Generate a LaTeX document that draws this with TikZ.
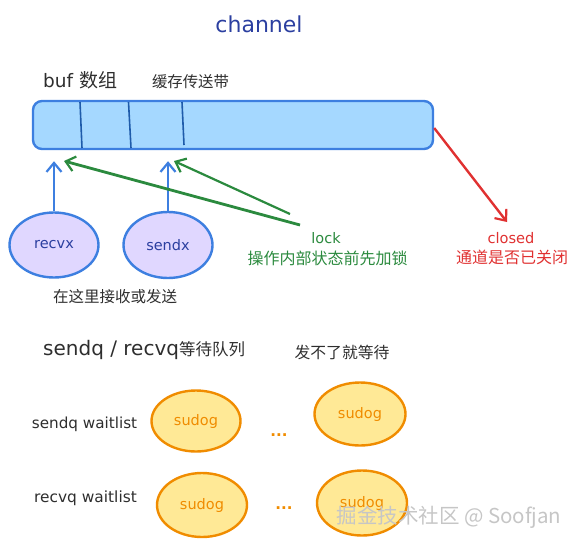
\documentclass[tikz,border=0pt]{standalone}
\usepackage{fontspec}
\setmainfont{DejaVu Sans}
\newfontfamily\cjk{Noto Sans CJK SC}
\usetikzlibrary{shapes.geometric,arrows.meta}
\definecolor{titleblue}{HTML}{2B3FA0}
\definecolor{buffill}{HTML}{A5D8FF}
\definecolor{bufstroke}{HTML}{3D7FE0}
\definecolor{divblue}{HTML}{1E5BAA}
\definecolor{lav}{HTML}{E0D7FF}
\definecolor{grn}{HTML}{2B8A3E}
\definecolor{rd}{HTML}{E03131}
\definecolor{ylw}{HTML}{FFE996}
\definecolor{org}{HTML}{F08C00}
\definecolor{ink}{HTML}{2E2E2E}
\newcommand{\fsz}[1]{\fontsize{#1}{#1}\selectfont}
\tikzset{
  lbl/.style={inner sep=0pt, text=ink},
  idxnode/.style={ellipse, draw=bufstroke, fill=lav, line width=2.4pt, minimum width=89pt, minimum height=65pt, inner sep=0pt, text=titleblue, font=\fsz{14.5}},
  sudognode/.style={ellipse, draw=org, fill=ylw, line width=2.4pt, minimum width=90pt, minimum height=63pt, inner sep=0pt, text=org, font=\fsz{14.5}},
  tipv/.style={-{Straight Barb[length=9pt,width=15pt,line width=2.2pt]}},
  bluearrow/.style={tipv, draw=bufstroke, line width=2.2pt},
  greenarrow/.style={tipv, draw=grn, line width=2.2pt},
  redarrow/.style={tipv, draw=rd, line width=2.4pt},
  divider/.style={draw=divblue, line width=1.6pt}
}
\begin{document}
\begin{tikzpicture}[x=1pt,y=-1pt]
\useasboundingbox (0,0) rectangle (577,546);
% title
\node[lbl, text=titleblue, font=\fsz{22}] (title) at (259,24) {channel};
\node[lbl, font=\fsz{18.5}, anchor=west] (buflbl) at (43,80) {buf {\cjk\fsz{19}数组}};
\node[lbl, font=\cjk\fsz{15.4}] (belt) at (190.5,82) {缓存传送带};
% buffer
\node[draw=bufstroke, fill=buffill, line width=2.4pt, rounded corners=9pt, minimum width=400pt, minimum height=48pt, inner sep=0pt] (buf) at (233,125) {};
\draw[divider] (80,102) -- (82,148);
\draw[divider] (128.5,102) -- (131,148);
\draw[divider] (182,102) -- (184,145);
% index ellipses
\node[idxnode] (recvx) at (54,245) {recvx};
\node[idxnode, minimum height=66pt] (sendx) at (168,245) {sendx};
\draw[bluearrow] (recvx.north) -- ([yshift=-11pt]recvx.north |- buf.south);
\draw[bluearrow] (sendx.north) -- ([yshift=-11pt]sendx.north |- buf.south);
\node[lbl, font=\cjk\fsz{15.5}] (here) at (115,297) {在这里接收或发送};
% lock
\coordinate (lockA) at (300,225);
\coordinate (lockB) at (290,214);
\coordinate (tgtA) at (64,161);
\coordinate (tgtB) at (174,161);
\draw[greenarrow, line width=2.8pt] (lockA) -- (tgtA);
\draw[greenarrow] (lockB) -- (tgtB);
\node[lbl, text=grn, font=\fsz{14.5}] (lock) at (326,238) {lock};
\node[lbl, text=grn, font=\cjk\fsz{16}] (lockdesc) at (327.5,258.5) {操作内部状态前先加锁};
% closed
\coordinate (closedtip) at (507,222);
\draw[redarrow] ([yshift=-3pt]buf.east) -- (closedtip);
\node[lbl, text=rd, font=\fsz{14.6}] (closed) at (511,238) {closed};
\node[lbl, text=rd, font=\cjk\fsz{16}] (closeddesc) at (512,257.5) {通道是否已关闭};
% wait queues
\node[lbl, font=\fsz{20}, anchor=west] (qlbl) at (43,350) {sendq / recvq{\cjk\fsz{16.5}等待队列}};
\node[lbl, font=\cjk\fsz{15.8}] (qdesc) at (342,352) {发不了就等待};
\node[lbl, font=\fsz{15.2}] (sendql) at (84.5,424) {sendq waitlist};
\node[lbl, font=\fsz{15.4}] (recvql) at (85.5,498) {recvq waitlist};
\node[sudognode, minimum width=89pt, minimum height=61pt] (s1) at (196,421) {sudog};
\node[sudognode, minimum width=91pt] (s2) at (360,414) {sudog};
\node[sudognode, minimum height=64pt] (r1) at (202,505) {sudog};
\node[sudognode, minimum height=65pt] (r2) at (362,503) {sudog};
\node[lbl, text=org, font=\bfseries\fsz{15}] (dots1) at (279,435) {...};
\node[lbl, text=org, font=\bfseries\fsz{15}] (dots2) at (284,508) {...};
% watermark
\node[lbl, text=gray!45, font=\cjk\fsz{20.5}] (wm) at (449,517) {掘金技术社区 @ Soofjan};
\end{tikzpicture}
\end{document}
